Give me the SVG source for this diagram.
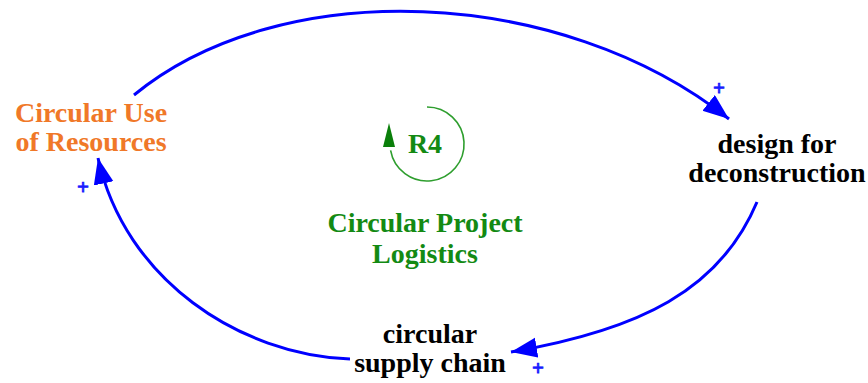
<svg xmlns="http://www.w3.org/2000/svg" width="868" height="383" viewBox="0 0 868 383">
  <style>
    text { font-family: "Liberation Serif", "Times New Roman", serif; font-weight: bold; text-anchor: middle; }
    .var { font-size: 28px; fill: #000000; }
    .orange { fill: #f07828; }
    .loop { font-size: 28px; fill: #138a13; }
    .link { fill: none; stroke: #0000ff; stroke-width: 3; marker-end: url(#arrow); }
    .pol { font-size: 21px; fill: #1a1aff; stroke: #1a1aff; stroke-width: 0.8; }
  </style>
  <defs>
    <marker id="arrow" markerUnits="userSpaceOnUse" markerWidth="28" markerHeight="22" refX="26" refY="10" orient="auto">
      <path d="M0,0 L26,10 L0,20 z" fill="#0000ff"/>
    </marker>
  </defs>

  <rect width="868" height="383" fill="#ffffff"/>

  <!-- causal links -->
  <g id="connectors">
    <path class="link" d="M134,95 C280,-25 560,-15 729,119"/>
    <path class="link" d="M757,202 C720,290 640,330 511,352"/>
    <path class="link" d="M350,359 C240,355 125,280 98,158"/>
    <text class="pol" x="719" y="95">+</text>
    <text class="pol" x="538" y="375">+</text>
    <text class="pol" x="83" y="194">+</text>
  </g>

  <g id="circular-use-of-resources">
    <text class="var orange" x="91" y="122">Circular Use</text>
    <text class="var orange" x="91" y="151">of Resources</text>
  </g>

  <g id="design-for-deconstruction">
    <text class="var" x="777" y="153">design for</text>
    <text class="var" x="777" y="182">deconstruction</text>
  </g>

  <g id="circular-supply-chain">
    <text class="var" x="430" y="343">circular</text>
    <text class="var" x="430" y="372">supply chain</text>
  </g>

  <!-- reinforcing loop marker -->
  <g id="loop-r4">
    <path d="M427,107 A37,37 0 1 1 390.6,150.4" fill="none" stroke="#2e9e2e" stroke-width="1.6"/>
    <polygon points="389,123 383,147 395,147" fill="#0a7f0a"/>
    <text class="loop" x="425" y="153">R4</text>
    <text class="loop" x="425" y="232">Circular Project</text>
    <text class="loop" x="425" y="263">Logistics</text>
  </g>
</svg>
